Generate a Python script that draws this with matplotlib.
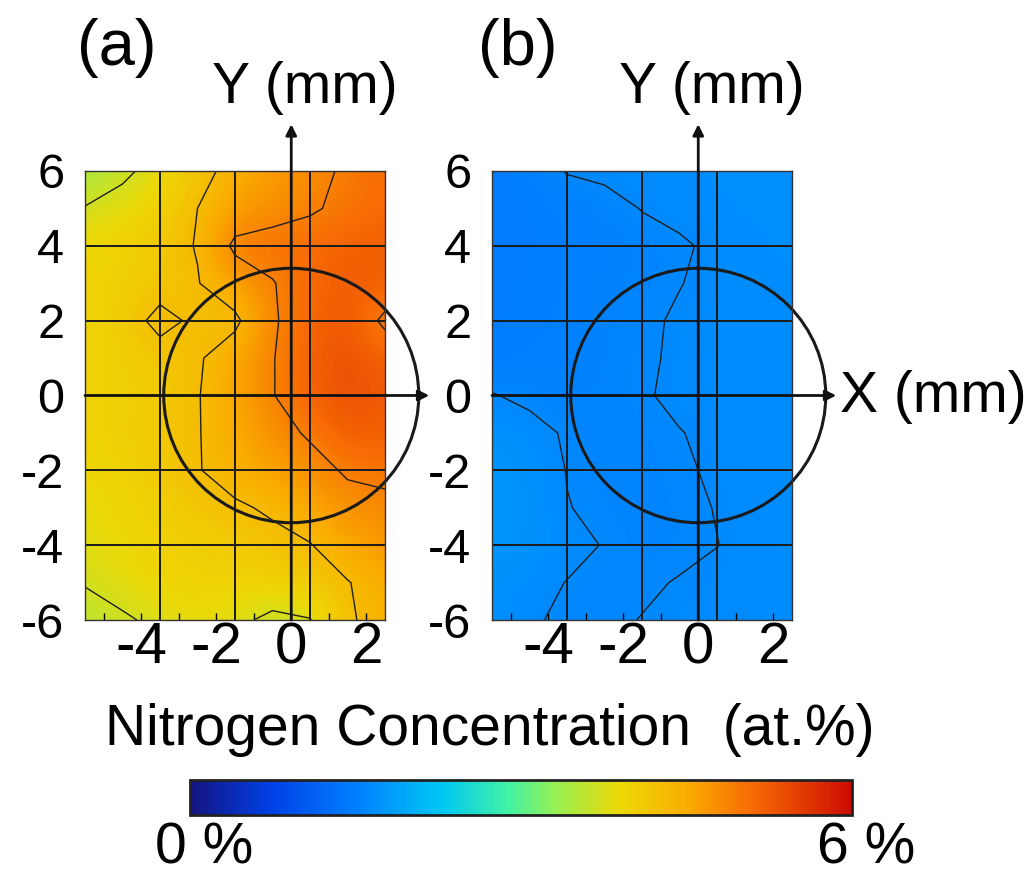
import numpy as np
import matplotlib
matplotlib.use("Agg")
import matplotlib.pyplot as plt
from matplotlib.colors import LinearSegmentedColormap, Normalize
from matplotlib.cm import ScalarMappable
from matplotlib.patches import Circle

plt.rcParams['font.family'] = ['Liberation Sans', 'DejaVu Sans']
plt.rcParams['axes.unicode_minus'] = False

# measurement grid (mm); rows run from y=6 down to y=-6
x_mm = [-5.5, -4.5, -3.5, -2.5, -1.5, -0.5, 0.5, 1.5, 2.5]
y_mm = [6, 5, 4, 3, 2, 1, 0, -1, -2, -3, -4, -5, -6]

# nitrogen concentration (at.%), panel (a)
conc_a = [
    [3.40, 3.62, 3.85, 4.15, 4.45, 4.65, 4.80, 4.95, 5.10],
    [3.72, 3.85, 4.00, 4.30, 4.60, 4.75, 4.85, 5.00, 5.10],
    [3.90, 4.00, 4.15, 4.32, 5.00, 5.05, 5.10, 5.20, 5.20],
    [3.95, 4.05, 4.10, 4.28, 4.60, 4.88, 5.10, 5.25, 5.20],
    [3.95, 4.05, 4.45, 4.20, 4.20, 4.85, 5.15, 5.30, 4.80],
    [3.95, 4.05, 4.10, 4.25, 4.55, 4.88, 5.20, 5.35, 5.20],
    [3.95, 4.05, 4.10, 4.28, 4.55, 4.88, 5.20, 5.35, 5.25],
    [3.95, 4.05, 4.10, 4.28, 4.50, 4.75, 4.95, 5.25, 5.20],
    [3.90, 4.00, 4.10, 4.28, 4.45, 4.60, 4.75, 4.95, 5.00],
    [3.85, 3.95, 4.05, 4.15, 4.25, 4.35, 4.55, 4.75, 4.80],
    [3.80, 3.90, 4.00, 4.05, 4.10, 4.20, 4.28, 4.55, 4.70],
    [3.72, 3.85, 3.95, 4.00, 4.00, 4.00, 4.10, 4.28, 4.50],
    [3.55, 3.65, 3.78, 3.85, 3.80, 3.60, 3.68, 4.25, 4.45],
]

# nitrogen concentration (at.%), panel (b)
conc_b = [
    [1.45, 1.50, 1.61, 1.63, 1.65, 1.66, 1.67, 1.68, 1.68],
    [1.45, 1.47, 1.50, 1.55, 1.605, 1.64, 1.66, 1.67, 1.67],
    [1.45, 1.47, 1.50, 1.52, 1.55, 1.58, 1.63, 1.66, 1.67],
    [1.46, 1.48, 1.50, 1.53, 1.56, 1.595, 1.64, 1.66, 1.66],
    [1.47, 1.49, 1.51, 1.54, 1.57, 1.62, 1.65, 1.66, 1.66],
    [1.48, 1.50, 1.52, 1.55, 1.575, 1.625, 1.65, 1.66, 1.66],
    [1.61, 1.56, 1.53, 1.55, 1.585, 1.63, 1.65, 1.66, 1.66],
    [1.70, 1.66, 1.58, 1.55, 1.56, 1.595, 1.63, 1.65, 1.66],
    [1.75, 1.70, 1.595, 1.56, 1.56, 1.58, 1.62, 1.65, 1.66],
    [1.76, 1.71, 1.605, 1.57, 1.56, 1.57, 1.605, 1.64, 1.65],
    [1.74, 1.70, 1.66, 1.59, 1.56, 1.56, 1.598, 1.63, 1.65],
    [1.70, 1.66, 1.595, 1.57, 1.575, 1.61, 1.63, 1.64, 1.65],
    [1.68, 1.62, 1.57, 1.57, 1.605, 1.62, 1.63, 1.64, 1.65],
]

levels_a = [3.7, 4.3, 4.9]
levels_b = [1.6]

x_ticks = [-4, -2, 0, 2]
x_minor = [-5, -4, -3, -2, -1, 0, 1, 2]
y_ticks = [-6, -4, -2, 0, 2, 4, 6]
grid_x = [-3.5, -1.5, 0.5]
grid_y = [-4, -2, 2, 4]
ring_r = 3.4

cmap = LinearSegmentedColormap.from_list("nconc", [
    (0.00, (0.08, 0.08, 0.50)),
    (0.12, (0.00, 0.25, 0.90)),
    (0.25, (0.00, 0.50, 1.00)),
    (0.38, (0.00, 0.78, 0.95)),
    (0.48, (0.25, 0.95, 0.65)),
    (0.55, (0.58, 0.94, 0.33)),
    (0.65, (0.93, 0.85, 0.03)),
    (0.75, (0.98, 0.68, 0.00)),
    (0.85, (0.97, 0.42, 0.02)),
    (1.00, (0.80, 0.05, 0.00)),
])

W, H = 1033, 876
fig = plt.figure(figsize=(W / 100, H / 100), dpi=100)


def px(l, t, r, b):
    return [l / W, 1 - b / H, (r - l) / W, (b - t) / H]


def panel(left, conc, levels, x_label):
    ax = fig.add_axes(px(left, 171, left + 300, 620))
    Z = np.array(conc)
    ax.imshow(Z, cmap=cmap, vmin=0, vmax=6, extent=[-6, 3, -6.5, 6.5],
              interpolation='bicubic', aspect='auto', origin='upper')
    ax.contour(x_mm, y_mm, Z, levels=levels, colors='#202020', linewidths=1.0)
    for gx in grid_x:
        ax.axvline(gx, color='#1a1a1a', lw=1.4)
    for gy in grid_y:
        ax.axhline(gy, color='#1a1a1a', lw=1.4)
    ax.set_xlim(-5.5, 2.5)
    ax.set_ylim(-6, 6)

    arrow = dict(arrowstyle='-|>', lw=2, color='#111111', mutation_scale=16,
                 shrinkA=0, shrinkB=0)
    ax.annotate('', xy=(0, 7.25), xytext=(0, -6), arrowprops=arrow,
                annotation_clip=False)
    ax.annotate('', xy=(3.68, 0), xytext=(-5.5, 0), arrowprops=arrow,
                annotation_clip=False)
    ax.add_patch(Circle((0, 0), ring_r, fill=False, lw=2.2, ec='#1a1a1a',
                        clip_on=False))

    ax.set_xticks(x_ticks)
    ax.set_xticks(x_minor, minor=True)
    ax.set_yticks(y_ticks)
    ax.tick_params(axis='x', which='both', direction='in', length=5, width=1,
                   labelsize=42, pad=1, top=False)
    ax.tick_params(axis='y', length=0, labelsize=35, pad=15)
    for s in ax.spines.values():
        s.set_linewidth(1)
        s.set_color('#333333')

    ax.text(0.37, 7.83, 'Y (mm)', ha='center', va='baseline', fontsize=41)
    if x_label:
        ax.text(3.79, -0.45, 'X (mm)', ha='left', va='baseline', fontsize=41)
    return ax


panel(85, conc_a, levels_a, False)
panel(492, conc_b, levels_b, True)

fig.text(77 / W, 1 - 65 / H, '(a)', fontsize=47, ha='left', va='baseline')
fig.text(478 / W, 1 - 65 / H, '(b)', fontsize=47, ha='left', va='baseline')

# colour bar
cax = fig.add_axes(px(190, 780, 852, 815))
cb = fig.colorbar(ScalarMappable(norm=Normalize(0, 6), cmap=cmap), cax=cax,
                  orientation='horizontal')
cb.set_ticks([])
cb.outline.set_linewidth(2)
cb.outline.set_edgecolor('#222222')

fig.text(490 / W, 1 - 745 / H, 'Nitrogen Concentration  (at.%)',
         ha='center', va='baseline', fontsize=41)
fig.text(155 / W, 1 - 863 / H, '0 %', ha='left', va='baseline', fontsize=41)
fig.text(817 / W, 1 - 863 / H, '6 %', ha='left', va='baseline', fontsize=41)

fig.savefig('out.png', dpi=100)
